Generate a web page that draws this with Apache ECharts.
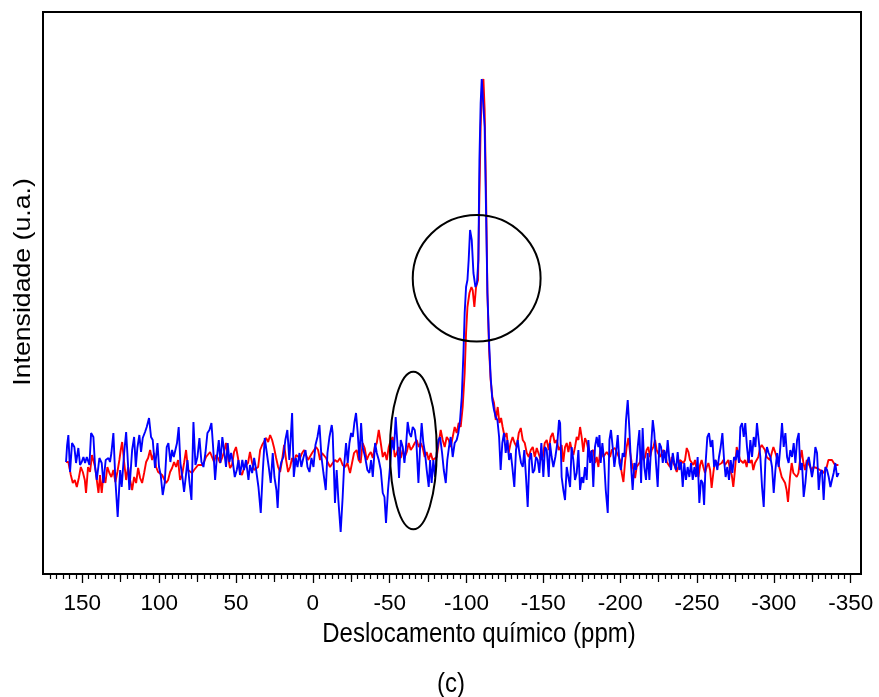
<!DOCTYPE html>
<html><head><meta charset="utf-8">
<script src="https://cdn.jsdelivr.net/npm/echarts@6/dist/echarts.min.js"></script>
<style>html,body{margin:0;padding:0;background:#fff}#c{width:879px;height:697px}</style>
</head><body><div id="c"></div>
<script>
const xTickLabels = [150,100,50,0,-50,-100,-150,-200,-250,-300,-350];
const xMidTicks = [125,75,25,-25,-75,-125,-175,-225,-275,-325];
const xTitle = 'Deslocamento químico (ppm)';
const yTitle = 'Intensidade (u.a.)';
const caption = '(c)';

const redPpm = [160.6,159.1,157.5,156.2,154.9,153.6,152.3,151.0,149.7,148.4,
147.6,146.3,145.0,143.7,142.8,141.7,140.6,139.5,138.5,137.4,
136.3,135.0,133.7,132.4,131.1,129.8,128.5,127.2,125.9,125.0,
124.1,122.8,121.5,120.2,118.9,117.6,116.3,115.0,113.7,112.4,
111.1,109.8,108.5,107.2,105.9,104.6,103.3,102.0,100.7,99.4,
98.1,96.8,95.5,94.2,92.9,91.6,90.3,89.0,87.7,86.4,
85.1,83.8,82.5,81.2,79.9,78.6,77.3,76.0,74.7,73.4,
72.1,70.8,69.5,68.2,66.9,65.6,64.3,63.0,61.7,60.4,
59.1,57.8,56.5,55.2,53.9,52.6,51.3,50.0,48.7,47.4,
46.1,44.8,43.5,42.2,40.9,39.5,38.2,36.9,35.6,34.3,
33.0,31.7,30.4,29.1,27.8,26.5,25.2,23.9,22.6,21.3,
20.0,18.7,17.4,16.1,14.8,13.5,12.2,10.9,9.6,8.3,
7.0,5.7,4.4,3.1,1.8,0.5,-0.8,-2.1,-3.4,-4.7,
-6.0,-7.3,-8.6,-9.9,-11.2,
-12.9,-14.4,-16.0,-17.7,-19.4,-21.0,-22.5,-24.2,-25.5,-26.8,
-28.5,-29.8,-31.1,-32.4,-33.7,-35.1,-36.4,-37.7,-39.0,-40.3,
-41.6,-42.9,-44.2,-45.5,-46.8,-48.1,-49.4,-50.7,-52.0,-53.3,
-54.6,-55.9,-57.2,-58.5,-59.8,-61.1,-62.4,-63.7,-65.0,-66.3,
-67.6,-68.9,-70.2,-71.5,-72.8,-74.1,-75.4,-76.7,-78.0,-79.3,
-80.6,-81.9,-83.2,-84.5,-85.8,-87.1,-88.4,-89.7,-91.0,-92.3,
-93.6,-94.9,-96.2,-97.5,-98.8,-99.7,-100.6,-101.9,-103.2,-104.0,
-105.1,-106.2,-107.5,-108.4,-109.2,-110.1,-111.0,-111.8,-112.7,-113.6,
-114.7,-115.7,-116.8,-117.9,-119.0,-120.3,-121.4,-122.5,-123.5,-124.8,
-126.1,-127.4,-128.7,-130.0,-131.3,-132.7,-134.0,-135.3,-136.6,-137.9,
-139.2,-140.5,-141.8,-143.1,-144.4,-145.7,-147.0,-148.3,-149.6,-150.9,
-152.2,-153.5,-154.8,-156.1,-157.4,-158.7,-160.0,
-161.9,-163.0,-164.1,-165.2,-166.3,-167.4,-168.4,-169.5,-170.6,-171.7,
-172.8,-173.9,-175.0,-176.0,-177.1,-178.2,-179.3,-180.4,-181.5,-182.5,
-183.6,-184.7,-185.8,-186.9,-188.0,-189.0,-190.1,-191.2,-192.3,-193.4,
-194.5,-195.6,-196.6,-197.7,-198.8,-199.9,-201.0,-202.1,-203.1,-204.2,
-205.3,-206.4,-207.5,-208.6,-209.7,-210.7,-211.8,-212.9,-214.0,-215.1,
-216.2,-217.2,-218.3,-219.4,-220.5,-221.6,-222.7,-223.7,-224.8,-225.9,
-227.0,-228.1,-229.2,-230.3,-231.3,-232.4,-233.5,-234.6,-235.7,-236.8,
-237.8,-238.9,-240.0,-241.1,-242.2,-243.3,-244.4,-245.4,-246.5,-247.6,
-248.7,-249.8,-250.9,-252.0,-253.0,-254.1,-255.2,-256.3,-257.4,-258.5,
-259.5,-260.6,-261.7,-262.8,-263.9,-265.0,-266.1,-267.1,-268.2,-269.3,
-270.4,-271.5,-272.6,-273.6,-274.7,-275.8,-276.9,-278.0,-279.1,-280.1,
-281.2,-282.3,-283.4,-284.5,-285.6,-286.6,-287.7,-288.8,-289.9,-291.0,
-292.1,-293.2,-294.2,-295.3,-296.4,-297.5,-298.6,-299.7,-300.8,-301.8,
-302.9,-304.0,-305.1,-306.2,-307.3,-308.3,-309.2,-310.5,-311.6,-312.7,
-313.8,-314.9,-316.0,-317.0,-318.1,-319.2,-320.3,-321.4,-322.4,-323.5,
-324.6,-325.7,-326.8,-327.9,-329.0,-330.0,-331.1,-332.2,-333.3,-334.4,
-335.5,-336.6,-337.8,-338.8,-339.8,-340.9,-342.0];

const redInt = [112,112,99,91,94,87,96,107,102,94,
81,107,102,119,119,107,94,81,99,81,
99,91,107,101,97,104,92,102,114,124,
132,112,94,107,94,84,97,91,106,96,
91,101,112,116,124,114,121,107,102,104,
99,101,91,94,102,106,112,107,114,94,
99,111,124,104,106,101,104,102,109,111,
109,112,117,116,122,117,112,119,116,111,
116,122,131,117,106,109,122,127,116,102,
99,106,104,111,122,111,104,102,107,124,
129,131,136,132,139,134,126,116,107,102,
114,129,114,102,107,116,111,119,121,116,
121,124,122,114,116,121,122,127,124,114,
121,122,116,111,107,
111,114,112,116,109,107,111,101,111,121,
124,114,111,131,126,114,119,122,116,127,
131,144,131,117,122,114,127,134,137,117,
121,127,116,124,117,122,131,124,127,131,
134,127,131,126,117,122,114,121,114,116,
117,131,144,134,127,137,134,127,137,147,
141,151,147,167,201,241,267,281,287,284,
267,287,294,381,447,487,495,464,381,281,
224,194,177,171,154,167,151,156,147,137,
141,121,131,137,131,127,141,146,134,131,
121,117,124,127,117,126,124,114,117,131,
134,124,137,141,131,134,124,
129,112,127,131,122,132,124,119,127,137,
134,147,136,122,136,132,124,121,122,124,
111,117,107,122,127,117,119,122,124,117,
124,122,126,122,121,114,101,92,111,127,
136,122,111,104,96,107,109,112,121,114,
117,124,127,117,124,127,134,124,126,117,
121,124,121,112,111,107,117,111,107,102,
107,114,116,111,114,126,122,114,114,109,
114,104,97,109,114,107,101,107,111,104,
86,101,114,112,109,109,111,114,109,111,
114,104,99,87,104,127,121,114,114,111,
114,107,117,111,114,104,111,109,117,126,
129,127,124,117,117,114,121,127,122,117,
117,104,97,94,91,84,72,97,111,101,
99,97,101,114,124,111,104,114,111,109,
104,107,109,106,104,104,102,101,104,107,
114,116,114,112,109,107,109];

const bluePpm = [160.6,159.9,159.1,158.0,156.7,155.2,154.1,152.6,151.5,150.4,
149.3,148.2,147.1,145.4,144.3,142.8,141.7,140.6,138.9,137.4,
136.3,134.8,133.0,132.0,131.1,129.8,128.5,127.0,125.4,124.4,
122.8,121.5,120.7,119.4,117.6,116.3,115.2,114.2,112.9,111.8,
110.7,109.2,108.1,106.6,105.3,104.2,102.7,101.1,100.1,99.0,
97.7,96.4,95.1,94.0,92.7,91.6,90.5,89.4,88.4,87.3,
86.2,84.9,83.8,82.7,81.6,80.3,79.0,77.7,76.4,75.1,
73.8,72.5,71.2,69.9,68.6,67.3,66.0,64.9,63.6,62.5,
61.2,60.2,58.9,57.8,56.5,55.4,54.3,53.2,52.1,50.8,
49.5,48.4,47.4,45.9,44.8,43.5,41.9,40.9,39.5,38.2,
36.9,35.4,33.9,32.6,31.3,30.0,28.7,27.4,26.1,25.0,
23.7,22.9,21.8,20.5,19.2,17.9,16.6,15.3,14.4,13.5,
12.4,11.1,10.0,8.7,7.5,6.2,4.8,3.5,2.2,0.9,
-0.4,-1.7,-3.0,-4.3,-5.6,-6.9,-8.4,-9.5,-10.8,-12.3,
-12.9,-14.4,-15.5,-16.6,-18.1,-19.4,-20.3,-21.6,-22.7,-23.8,
-24.9,-26.0,-27.0,-28.1,-29.2,-30.3,-31.4,-32.4,-34.0,-35.5,
-36.8,-37.9,-39.0,-40.5,-41.6,-42.9,-44.2,-45.5,-46.6,-47.6,
-48.9,-50.2,-51.5,-52.8,-53.9,-55.0,-56.1,-57.2,-58.5,-59.6,
-60.6,-61.7,-62.8,-63.9,-65.0,-66.3,-67.4,-68.7,-69.8,-70.8,
-71.9,-73.0,-74.1,-75.4,-76.3,-77.3,-78.4,-79.5,-80.6,-81.7,
-82.8,-84.1,-85.2,-86.5,-87.5,-88.6,-89.7,-91.0,-92.3,-93.6,
-94.7,-95.8,-96.9,-98.0,-98.8,-99.7,-100.6,-101.4,-102.3,-103.4,
-104.5,-105.8,-106.8,-107.7,-108.4,-109.2,-109.9,-111.0,-111.8,-112.7,
-113.6,-114.7,-115.7,-116.8,-117.9,-119.0,-120.1,-121.2,-122.2,-123.3,
-124.4,-125.5,-126.6,-127.7,-128.8,-129.8,-131.1,-132.2,-133.3,-134.4,
-135.5,-136.6,-137.6,-138.7,-139.8,-140.9,-142.0,-143.1,-144.2,-145.2,
-146.3,-147.4,-148.7,-150.0,-151.1,-152.2,-153.5,-154.3,-155.4,-156.5,
-157.8,-159.1,-160.2,
-160.9,-161.9,-163.0,-164.1,-165.2,-166.3,-167.4,-168.4,-169.5,-170.6,
-171.7,-172.8,-173.9,-175.0,-176.0,-177.1,-178.2,-179.3,-180.4,-181.5,
-182.5,-183.6,-184.7,-185.8,-186.5,-187.3,-188.4,-189.5,-190.6,-191.9,
-193.0,-194.0,-195.1,-196.2,-197.3,-198.4,-199.5,-200.5,-201.6,-202.7,
-203.8,-204.9,-206.0,-207.1,-208.1,-209.2,-210.3,-211.4,-212.5,-213.6,
-214.6,-215.7,-216.8,-217.9,-219.0,-220.1,-221.2,-222.2,-223.3,-224.4,
-225.5,-226.6,-227.7,-228.7,-229.8,-230.9,-232.0,-233.1,-234.2,-235.2,
-236.3,-237.4,-238.5,-239.6,-240.7,-241.7,-242.8,-243.9,-245.0,-246.1,
-247.2,-248.3,-249.3,-250.4,-251.5,-252.6,-253.7,-254.6,-255.6,-256.7,
-257.8,-258.9,-260.0,-261.1,-262.1,-263.2,-264.3,-265.4,-266.5,-267.6,
-268.6,-269.7,-270.8,-271.9,-273.0,-274.1,-275.2,-276.2,-277.3,-278.2,
-279.3,-280.4,-281.4,-282.5,-283.6,-284.7,-285.8,-286.9,-288.0,-289.0,
-290.1,-291.2,-292.3,-293.4,-294.5,-295.5,-296.6,-297.7,-298.8,-299.9,
-301.0,-302.1,-303.1,-304.2,-305.3,-306.4,-307.5,-308.6,-309.6,-310.7,
-311.8,-312.9,-314.0,-315.1,-316.2,-317.2,-318.3,-319.4,-320.5,-321.6,
-322.7,-323.7,-324.8,-325.9,-327.0,-328.1,-329.2,-330.2,-331.3,-332.4,
-333.5,-334.6,-335.7,-336.8,-337.8,-338.9,-340.0,-341.1,-342.2];

const blueInt = [112,129,139,102,131,127,111,126,109,112,
117,111,117,109,141,137,107,94,116,111,
91,114,116,112,121,141,94,57,104,87,
121,142,121,84,124,137,107,126,139,122,
136,142,147,156,137,134,106,131,107,99,
79,91,127,131,112,124,117,116,131,147,
111,97,82,97,114,92,74,152,109,117,
136,112,107,121,141,144,151,127,94,116,
134,111,137,124,107,131,112,121,112,97,
104,114,99,114,104,114,94,109,101,116,
104,87,61,102,136,134,107,91,121,97,
84,66,102,112,117,134,144,114,136,161,
97,116,107,121,107,116,124,107,102,116,
107,129,137,149,117,101,84,121,137,149,
141,71,104,74,42,77,107,131,111,131,
141,137,151,161,141,114,151,127,117,104,
101,114,97,131,121,114,104,81,77,51,
84,107,134,124,157,131,96,134,127,111,
127,152,141,137,147,144,131,91,127,151,
131,121,104,87,114,91,114,97,121,134,
137,121,104,91,114,127,137,117,131,134,
141,154,177,221,261,287,294,314,344,334,
301,287,291,314,414,471,495,494,447,364,
281,231,197,174,164,157,154,137,104,131,
141,121,134,114,121,107,87,124,134,121,
111,107,124,97,67,114,121,101,104,117,
114,101,131,97,127,124,97,131,117,107,
117,131,154,
151,97,84,74,107,97,87,127,114,94,
101,124,84,97,91,107,94,134,111,124,
87,127,137,127,139,111,131,114,84,61,
134,144,127,107,121,139,111,104,121,117,
154,174,144,107,84,111,104,127,144,91,
146,107,94,121,94,127,154,141,111,87,
131,127,111,124,111,134,114,104,121,111,
104,122,104,112,87,111,94,107,97,111,
94,107,97,117,71,94,91,69,111,137,
141,127,134,107,114,104,117,127,141,114,
97,107,94,114,101,117,114,124,111,147,
151,137,151,127,111,134,117,137,127,151,
134,117,87,67,114,127,121,117,107,81,
104,121,107,127,151,127,141,117,111,124,
117,131,111,134,141,104,111,77,91,111,
117,117,97,107,127,121,84,101,104,74,
107,104,97,87,94,101,111,97,101];

// annotation ellipses, in data units: [centre ppm, centre intensity, half-width ppm, half-height intensity]
const bigCircle = [-106.6, 295.7, 41.6, 63.3];
const smallEllipse = [-65.4, 123.5, 15.2, 78.8];

const zip = (a, b) => a.slice(0, Math.min(a.length, b.length)).map((v, i) => [v, b[i]]);
const FONT = '"Liberation Sans", Arial, sans-serif';

const chart = echarts.init(document.getElementById('c'), null, {renderer: 'canvas'});
const option = {
  animation: false,
  backgroundColor: '#fff',
  grid: [
    {left: 43, top: 12, width: 818, height: 562, show: true, borderColor: '#000', borderWidth: 2, backgroundColor: 'transparent', containLabel: false},
    {left: 50.2, top: 12, width: 800.5, height: 562, show: false, containLabel: false}
  ],
  xAxis: [
    {gridIndex: 0, type: 'value', min: -356.7, max: 175.6, inverse: true, show: false},
    {gridIndex: 1, type: 'value', position: 'bottom', min: -350, max: 170.9, inverse: true, interval: 50,
      axisLine: {show: false}, splitLine: {show: false},
      axisTick: {show: true, inside: false, length: 9, lineStyle: {color: '#000', width: 1.3}, customValues: xTickLabels},
      minorTick: {show: true, splitNumber: 12, length: 5, lineStyle: {color: '#000', width: 1.2}},
      minorSplitLine: {show: false},
      axisLabel: {show: true, customValues: xTickLabels, fontSize: 22.5, color: '#000', fontFamily: FONT, margin: 18, formatter: v => String(v)}
    },
    {gridIndex: 1, type: 'value', position: 'bottom', offset: 0, min: -350, max: 170.9, inverse: true, interval: 25,
      axisLine: {show: false}, splitLine: {show: false},
      axisTick: {show: true, inside: false, length: 8, lineStyle: {color: '#000', width: 1.2}, customValues: xMidTicks},
      axisLabel: {show: false}
    }
  ],
  yAxis: [
    {gridIndex: 0, type: 'value', min: 0, max: 562, show: false},
    {gridIndex: 1, type: 'value', min: 0, max: 1, show: false}
  ],
  series: [
    {type: 'line', name: 'red', xAxisIndex: 0, yAxisIndex: 0, data: zip(redPpm, redInt), showSymbol: false, symbol: 'none',
      lineStyle: {color: '#ff0000', width: 1.9}, z: 3, silent: true},
    {type: 'line', name: 'blue', xAxisIndex: 0, yAxisIndex: 0, data: zip(bluePpm, blueInt), showSymbol: false, symbol: 'none',
      lineStyle: {color: '#0000ff', width: 1.9}, z: 4, silent: true}
  ]
};
chart.setOption(option);

function ellipseGraphic(spec) {
  const c = chart.convertToPixel({gridIndex: 0}, [spec[0], spec[1]]);
  const e = chart.convertToPixel({gridIndex: 0}, [spec[0] + spec[2], spec[1] + spec[3]]);
  return {type: 'ellipse', shape: {cx: c[0], cy: c[1], rx: Math.abs(e[0] - c[0]), ry: Math.abs(e[1] - c[1])},
    style: {fill: 'none', stroke: '#000', lineWidth: 2}, z: 10, silent: true};
}

chart.setOption({
  graphic: [
    ellipseGraphic(bigCircle),
    ellipseGraphic(smallEllipse),
    {type: 'text', x: 479, y: 634, scaleY: 1.14, silent: true,
      style: {text: xTitle, fontSize: 24, fontFamily: FONT, fill: '#000', textAlign: 'center', textVerticalAlign: 'middle'}},
    {type: 'text', x: 451, y: 684, scaleY: 1.14, silent: true,
      style: {text: caption, fontSize: 24, fontFamily: FONT, fill: '#000', textAlign: 'center', textVerticalAlign: 'middle'}},
    {type: 'text', x: 24, y: 282, rotation: Math.PI / 2, scaleX: 1.14, silent: true,
      style: {text: yTitle, fontSize: 23.4, fontFamily: FONT, fill: '#000', textAlign: 'center', textVerticalAlign: 'middle'}}
  ]
});
</script>
</body></html>
